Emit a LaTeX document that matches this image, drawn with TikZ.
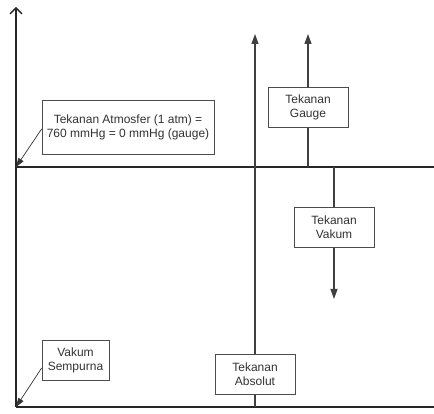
\documentclass[tikz,border=0pt]{standalone}
\usepackage{fontspec}
\setmainfont{Liberation Sans}
\usetikzlibrary{arrows.meta}
\begin{document}
\begin{tikzpicture}[x=1pt,y=-1pt,
  axis/.style={line width=1.4pt,draw=black!85},
  vline/.style={line width=1.1pt,draw=black!75},
  lbox/.style={draw=black!70,line width=0.8pt,fill=white,align=center,inner sep=0pt,
    font=\fontsize{12}{14}\selectfont,text=black!80},
  tip/.style={-{Triangle[length=10pt,width=7pt]}},
  ptr/.style={line width=0.7pt,draw=black!80,-{Triangle[length=9pt,width=6pt]}}]
\useasboundingbox (0,0) rectangle (434,414);
% coordinates
\coordinate (top) at (16,7);
\coordinate (origin) at (16,407);
\coordinate (right) at (434,407);
\coordinate (atmL) at (16,167);
\coordinate (atmR) at (434,167);
\coordinate (absB) at (255,407);
\coordinate (absT) at (255,34);
\coordinate (gB) at (308,167);
\coordinate (gT) at (308,34);
\coordinate (vT) at (334,167);
\coordinate (vB) at (334,299);
% axes
\draw[axis,-{Straight Barb[length=6pt,width=12pt]}] (origin) -- (top);
\draw[axis] (origin) -- (right);
\draw[axis] (atmL) -- (atmR);
% pressure lines
\draw[vline,tip] (absB) -- (absT);
\draw[vline,tip] (gB) -- (gT);
\draw[vline,tip] (vT) -- (vB);
% boxes
\node[lbox,minimum width=172pt,minimum height=54pt] (atm) at (128,127) {Tekanan Atmosfer (1 atm) =\\760 mmHg = 0 mmHg (gauge)};
\node[lbox,minimum width=80pt,minimum height=40pt] (gauge) at (308,107) {Tekanan\\Gauge};
\node[lbox,minimum width=80pt,minimum height=40pt] (vakum) at (334,227) {Tekanan\\Vakum};
\node[lbox,minimum width=80pt,minimum height=40pt] (abs) at (255,374) {Tekanan\\Absolut};
\node[lbox,minimum width=67pt,minimum height=40pt] (vs) at (75.5,360) {Vakum\\Sempurna};
% pointers
\draw[ptr] (atm.west |- 0,129) -- (atmL);
\draw[ptr] (vs.west |- 0,368) -- (origin);
\end{tikzpicture}
\end{document}
